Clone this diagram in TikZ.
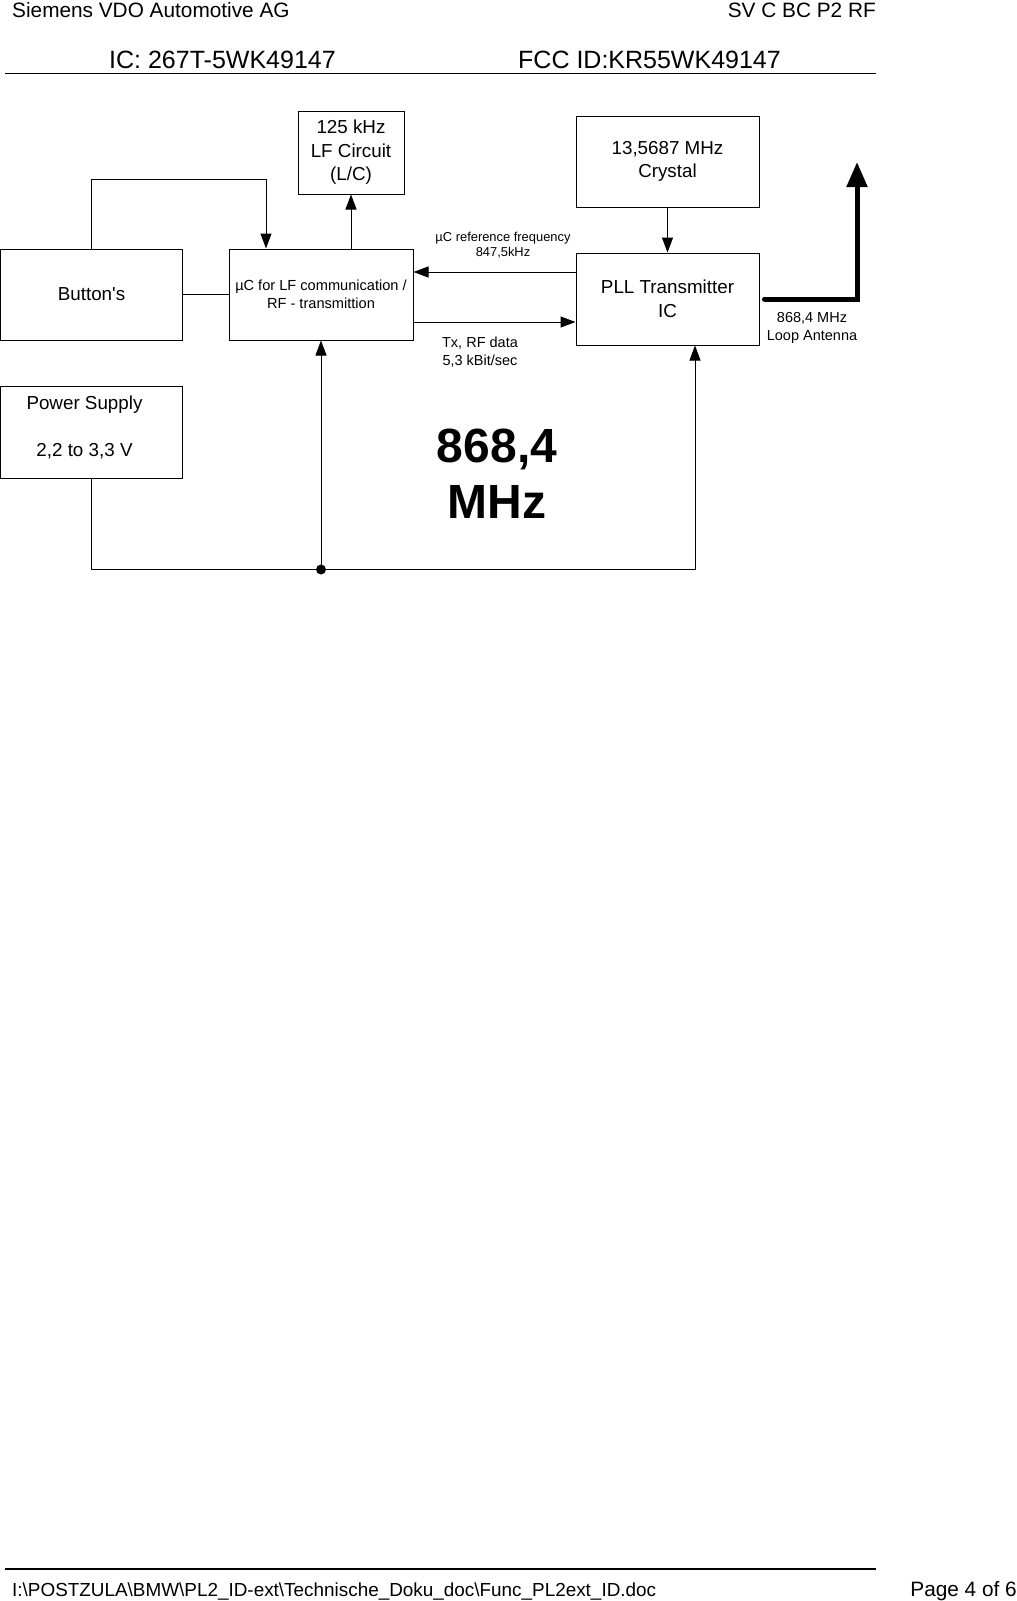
\documentclass[tikz,border=0pt]{standalone}
\usepackage{fontspec}
\setmainfont{Liberation Sans}[Ligatures=TeXOff]
\usetikzlibrary{arrows.meta}

\begin{document}
\begin{tikzpicture}[x=1pt, y=-1pt, >={Triangle[length=15pt,width=11pt]},
  blk/.style={draw, line width=1pt, inner sep=0pt, align=center,
    font=\fontsize{18.8}{23.5}\selectfont},
  wire/.style={line width=1pt},
  note/.style={inner sep=0pt, align=center, font=\fontsize{14.5}{18.4}\selectfont},
  hdr/.style={inner sep=0pt, font=\fontsize{20.8}{25}\selectfont},
  ids/.style={inner sep=0pt, font=\fontsize{25}{30}\selectfont}]

  \useasboundingbox (0,0) rectangle (1017,1601);

  % --- 1. header / footer ---
  \node[hdr, anchor=base west] (hdrL) at (12,17) {Siemens VDO Automotive AG};
  \node[hdr, anchor=base east] (hdrR) at (876,17) {SV C BC P2 RF};
  \node[ids, anchor=base west] (icid) at (109,68) {IC: 267T-5WK49147};
  \node[ids, anchor=base west] (fccid) at (518,68) {FCC ID:KR55WK49147};
  \draw[line width=1.5pt] (5,73.5) -- (876,73.5);

  \draw[line width=2pt] (5,1569) -- (876,1569);
  \node[hdr, anchor=base west, font=\fontsize{18.9}{23}\selectfont] (path) at (12,1596)
    {I:\textbackslash POSTZULA\textbackslash BMW\textbackslash PL2\_ID-ext\textbackslash Technische\_Doku\_doc\textbackslash Func\_PL2ext\_ID.doc};
  \node[hdr, anchor=base east] (page) at (1017,1596) {Page 4 of 6};

  % --- 2. blocks ---
  \node[blk, minimum width=182pt, minimum height=91pt] (btn) at (91.5,294.5) {Button's};
  \node[blk, minimum width=184pt, minimum height=91pt,
    font=\fontsize{14.6}{18.4}\selectfont] (mcu) at (321,294.5)
    {µC for LF communication /\\RF - transmittion};
  \node[blk, minimum width=106pt, minimum height=83pt] (lfc) at (351,152.5)
    {125 kHz\\LF Circuit\\(L/C)};
  \node[blk, minimum width=183pt, minimum height=91pt] (xtal) at (667.5,161.5)
    {13,5687 MHz\\Crystal};
  \node[blk, minimum width=183pt, minimum height=92pt] (pll) at (667.5,299)
    {PLL Transmitter\\IC};
  \node[blk, minimum width=182pt, minimum height=92pt] (psu) at (91.5,432) {};
  \node[inner sep=0pt, align=center, font=\fontsize{18.8}{23.5}\selectfont]
    (psutxt) at ([xshift=-7pt,yshift=5pt]psu.center) {Power Supply\\ \\2,2 to 3,3 V};

  % --- 3. connections ---
  \draw[wire, ->] (btn.north) -- ++(0,-69) -| ([xshift=-55pt]mcu.north);
  \draw[wire] (btn.east) -- (mcu.west);
  \draw[wire, ->] (mcu.north -| lfc.south) -- (lfc.south);
  \draw[wire, ->] (xtal.south) -- (pll.north);

  \coordinate (refA) at ([yshift=27pt]pll.west);
  \draw[wire, ->] (refA) -- (refA -| mcu.east);
  \coordinate (txA) at ([yshift=-27.5pt]mcu.east);
  \draw[wire, ->] (txA) -- (txA -| pll.west);

  % supply bus
  \coordinate (jn) at (321,569.5);
  \draw[wire, ->] (psu.south) |- (jn) -| ([xshift=27.5pt]pll.south);
  \draw[wire, ->] (jn) -- (mcu.south);
  \fill (jn) circle (5pt);

  % antenna
  \coordinate (anttip) at (857,162);
  \draw[line width=5pt, line cap=round, -{Triangle[length=25pt,width=20pt]}]
    ([xshift=5pt]pll.east) -| (anttip);

  % --- 4. labels ---
  \node[note, font=\fontsize{12.9}{15.3}\selectfont] (reflbl) at (503,245)
    {µC reference frequency\\847,5kHz};
  \node[note] (txlbl) at (480,352) {Tx, RF data\\5,3 kBit/sec};
  \node[note] (antlbl) at (812,328) {868,4 MHz\\Loop Antenna};
  \node[inner sep=0pt, align=center, font=\fontsize{48}{56}\selectfont\bfseries]
    (freq) at (497,474) {868,4\\MHz};

\end{tikzpicture}
\end{document}
